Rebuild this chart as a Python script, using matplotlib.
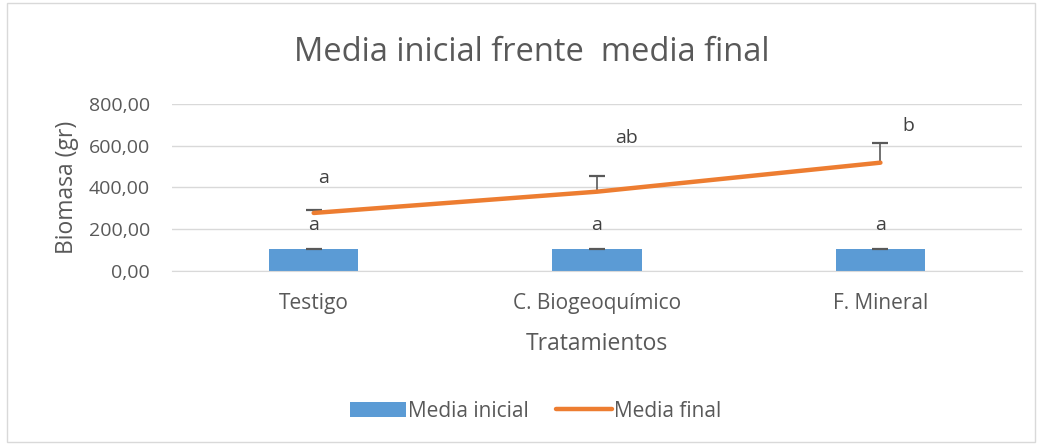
import matplotlib.pyplot as plt
from matplotlib.patches import Rectangle

plt.rcParams['font.family'] = ['Open Sans', 'DejaVu Sans']

tratamientos = ['Testigo', 'C. Biogeoquímico', 'F. Mineral']
media_inicial = [103, 103, 103]
err_inicial = [3, 3, 3]
media_final = [278, 380, 519]
err_final = [14, 75, 93]
letras_inicial = ['a', 'a', 'a']
letras_final = ['a', 'ab', 'b']

gris = '#595959'
fig = plt.figure(figsize=(10.38, 4.46), dpi=100)
ax = fig.add_axes([0.1657, 0.3924, 0.819, 0.3744])

x = list(range(len(tratamientos)))
ax.bar(x, media_inicial, width=0.315, color='#5B9BD5', label='Media inicial', zorder=2)
ax.plot(x, media_final, color='#ED7D31', linewidth=3.2, solid_capstyle='round',
        label='Media final', zorder=4)

# barras de error solo hacia arriba
sup_ini = [m + e for m, e in zip(media_inicial, err_inicial)]
sup_fin = [m + e for m, e in zip(media_final, err_final)]
ax.vlines(x, media_final, sup_fin, color=gris, linewidth=1.2, zorder=3)
ax.plot(x, sup_fin, linestyle='none', marker='_', markersize=12, mew=1.6, color=gris, zorder=3)
ax.plot(x, sup_ini, linestyle='none', marker='_', markersize=12, mew=1.6, color=gris, zorder=3)

# letras de significancia
pos_final = [(0.035, 445), (0.105, 637), (0.1, 695)]
for i in x:
    ax.text(i, 220, letras_inicial[i], ha='center', va='center',
            fontsize=14, color='#404040')
    dx, yy = pos_final[i]
    ax.text(i + dx, yy, letras_final[i], ha='center', va='center',
            fontsize=14, color='#404040')

ax.set_xlim(-0.5, 2.5)
ax.set_ylim(0, 800)
ax.set_yticks([0, 200, 400, 600, 800])
ax.set_yticklabels(['0,00', '200,00', '400,00', '600,00', '800,00'])
ax.set_xticks(x)
ax.set_xticklabels(tratamientos)
ax.tick_params(length=0, labelsize=14, labelcolor=gris)
ax.tick_params(axis='y', pad=16)
ax.tick_params(axis='x', labelsize=15, pad=16)
ax.grid(axis='y', color='#D9D9D9', linewidth=1, zorder=0)
ax.set_axisbelow(True)
for s in ['top', 'right', 'left']:
    ax.spines[s].set_visible(False)
ax.spines['bottom'].set_color('#D9D9D9')

ax.set_ylabel('Biomasa (gr)', fontsize=16.5, color=gris, labelpad=7)
ax.set_xlabel('Tratamientos', fontsize=16.5, color=gris, labelpad=13)
fig.text(0.512, 0.883, 'Media inicial frente  media final', ha='center', va='center',
         fontsize=23.5, color=gris)

h, l = ax.get_legend_handles_labels()
orden = [l.index('Media inicial'), l.index('Media final')]
fig.legend([h[k] for k in orden], [l[k] for k in orden],
           loc='center', bbox_to_anchor=(0.516, 0.078), ncol=2, frameon=False,
           fontsize=15, labelcolor=gris, handlelength=2.7, handletextpad=0.1,
           columnspacing=1.3)

fig.patches.append(Rectangle((0.007, 0.008), 0.99, 0.985, transform=fig.transFigure,
                             fill=False, edgecolor='#D9D9D9', linewidth=1))

fig.savefig('out.png', dpi=100)
